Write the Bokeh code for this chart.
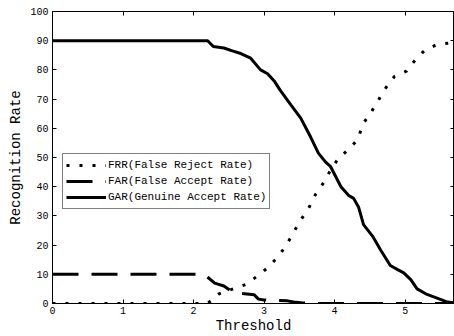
from bokeh.plotting import figure
from bokeh.models import LinearAxis, Legend, LegendItem, FixedTicker, Range1d, CustomJSTickFormatter
from bokeh.embed import file_html
from bokeh.resources import INLINE

# ---- data ----
gar_x = [0, 2.2, 2.28, 2.43, 2.55, 2.67, 2.81, 2.95, 3.05, 3.15, 3.23, 3.38, 3.52, 3.66,
         3.77, 3.87, 3.94, 4.09, 4.2, 4.27, 4.34, 4.41, 4.54, 4.65, 4.79, 4.9, 4.98,
         5.08, 5.17, 5.31, 5.5, 5.6, 5.69]
gar_y = [90, 90, 88, 87.5, 86.5, 85.6, 84, 80, 78.7, 76, 73, 68, 63.5, 57,
         51.5, 48.5, 47, 40, 37, 36, 33, 27, 23, 18.4, 13, 11.5, 10.5,
         8.2, 5, 3.1, 1.4, 0.5, 0.3]

frr_x = [0, 2.2, 2.36, 2.74, 2.9, 3.05, 3.2, 3.32, 3.42, 3.53, 3.64, 3.73, 3.85, 3.95,
         4.06, 4.2, 4.33, 4.4, 4.52, 4.63, 4.73, 4.85, 5.02, 5.14, 5.27, 5.45, 5.68]
frr_y = [0, 0, 3.3, 6.5, 9.3, 12.2, 16.1, 20.1, 24.5, 28.9, 33, 37.4, 41.6, 46,
         49.9, 52.8, 56.2, 61.4, 65.6, 70, 74, 77.8, 79.6, 83.3, 86.5, 88.7, 89.3]

far_x = [0, 2.15, 2.2, 2.3, 2.43, 2.52, 2.67, 2.86, 2.92, 3.0, 3.1, 3.33, 3.42, 3.55, 3.7, 5.7]
far_y = [10, 10, 9, 7, 6, 4.5, 3.5, 3, 1.5, 1.2, 1.1, 0.9, 0.5, 0.2, 0, 0]

x_ticks = [0, 1, 2, 3, 4, 5]
y_ticks = [0, 10, 20, 30, 40, 50, 60, 70, 80, 90, 100]

labels = ["FRR(False Reject Rate)", "FAR(False Accept Rate)", "GAR(Genuine Accept Rate)"]

FONT = "Liberation Mono"

p = figure(width=454, height=336, output_backend="svg", toolbar_location=None,
           x_range=Range1d(0, 5.7), y_range=Range1d(0, 100),
           min_border_left=52, min_border_right=0, min_border_top=11, min_border_bottom=0)

p.xgrid.visible = False
p.ygrid.visible = False
p.outline_line_color = "black"
p.outline_line_width = 1
p.background_fill_color = "white"
p.border_fill_color = "white"

r_frr = p.line(frr_x, frr_y, line_color="black", line_width=3, line_dash="3 10")
r_far = p.line(far_x, far_y, line_color="black", line_width=3, line_dash="26 13")
r_gar = p.line(gar_x, gar_y, line_color="black", line_width=3)

def style_axis(ax, show_labels=True):
    ax.axis_line_color = "black"
    ax.major_tick_in = 4
    ax.major_tick_out = 0
    ax.minor_tick_line_color = None
    ax.major_tick_line_color = "black"
    if show_labels:
        ax.major_label_text_font = FONT
        ax.major_label_text_font_size = "10px"
        ax.major_label_text_color = "black"
    else:
        ax.formatter = CustomJSTickFormatter(code="return ''")
        ax.major_label_standoff = 0

xa = p.xaxis[0]
ya = p.yaxis[0]
xa.ticker = FixedTicker(ticks=x_ticks)
ya.ticker = FixedTicker(ticks=y_ticks)
style_axis(xa)
style_axis(ya)
xa.major_label_standoff = 3
ya.major_label_standoff = 4
xa.axis_label = "Threshold"
ya.axis_label = "Recognition Rate"
for ax in (xa, ya):
    ax.axis_label_text_font = FONT
    ax.axis_label_text_font_size = "14px"
    ax.axis_label_text_font_style = "normal"
    ax.axis_label_text_color = "black"
xa.axis_label_standoff = 1
ya.axis_label_standoff = 3

top = LinearAxis(ticker=FixedTicker(ticks=x_ticks))
right = LinearAxis(ticker=FixedTicker(ticks=y_ticks))
style_axis(top, False)
style_axis(right, False)
p.add_layout(top, "above")
p.add_layout(right, "right")

legend = Legend(items=[LegendItem(label=labels[0], renderers=[r_frr]),
                       LegendItem(label=labels[1], renderers=[r_far]),
                       LegendItem(label=labels[2], renderers=[r_gar])],
                location=(10, 94))
legend.label_text_font = FONT
legend.label_text_font_size = "11px"
legend.label_text_color = "black"
legend.glyph_width = 40
legend.glyph_height = 16
legend.label_height = 16
legend.label_standoff = 2
legend.spacing = 0
legend.padding = 3
legend.margin = 0
legend.border_line_color = "black"
legend.border_line_width = 1
legend.background_fill_alpha = 1
p.add_layout(legend, "center")

open("out.html", "w").write(file_html(p, INLINE))
